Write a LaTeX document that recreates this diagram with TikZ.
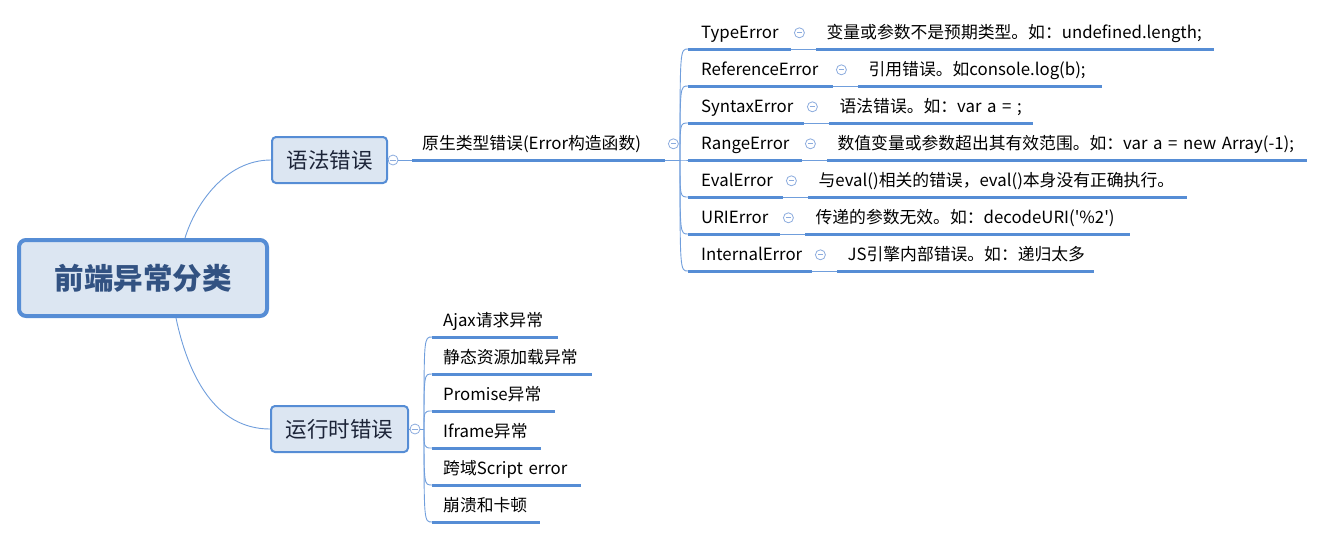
\documentclass[tikz,border=0pt]{standalone}
\usepackage{fontspec}
\newfontfamily\uifont{Noto Sans CJK SC}
\usetikzlibrary{positioning,calc}
\definecolor{lineBlue}{RGB}{86,141,213}
\definecolor{thinBlue}{RGB}{112,158,220}
\definecolor{iconBlue}{RGB}{140,172,222}
\definecolor{boxFill}{RGB}{220,230,242}
\definecolor{rootText}{RGB}{50,82,130}
\definecolor{branchText}{RGB}{28,36,56}
\tikzstyle{nRoot}=[rectangle,rounded corners=7pt,draw=lineBlue,line width=4pt,fill=boxFill,minimum width=248,minimum height=76,font=\uifont\bfseries\fontsize{29.5}{34}\selectfont,text=rootText]
\tikzstyle{nBranch}=[rectangle,rounded corners=4pt,draw=lineBlue,line width=2pt,fill=boxFill,minimum height=46,font=\uifont\fontsize{21.5}{26}\selectfont,text=branchText]
\tikzstyle{nLeaf}=[anchor=south west,inner ysep=0pt,text height=15pt,text depth=10pt,align=left,font=\uifont\fontsize{16.8}{20}\selectfont,text=black]
\tikzstyle{nName}=[nLeaf,inner xsep=13pt]
\tikzstyle{nDesc}=[nLeaf,inner xsep=10pt]
\tikzstyle{nItem}=[nLeaf,inner xsep=11pt]
\tikzstyle{nIcon}=[circle,draw=iconBlue,fill=white,line width=0.8pt,minimum size=10,inner sep=0pt,
  path picture={\draw[iconBlue,line width=0.8pt] ([xshift=2.4pt]path picture bounding box.west) -- ([xshift=-2.4pt]path picture bounding box.east);}]
\tikzstyle{eThick}=[draw=lineBlue,line width=3pt]
\tikzstyle{eThin}=[draw=thinBlue,line width=0.9pt]
\begin{document}
\begin{tikzpicture}[x=1pt,y=-1pt]
        \useasboundingbox (0,0) rectangle (1331,539);
                % root and main branches
                \draw (143,278) node[nRoot] (root) {前端异常分类};
                \draw (329.5,160) node[nBranch,minimum width=115] (b1) {语法错误};
                \draw (339.5,429) node[nBranch,minimum width=137] (b2) {运行时错误};
                \coordinate (rUp) at ($(root.north)+(42,0)$);
                \coordinate (rDown) at ($(root.south)+(33,0)$);
                \draw[eThin] (rUp) .. controls (195,205) and (225,160) .. (b1.west);
                \draw[eThin] (rDown) .. controls (188,375) and (215,429) .. (b2.west);
                % native error types
                \draw (412,160) node[nDesc,text width=233] (p1) {原生类型错误(Error构造函数)};
                \node[nIcon] (i0) at ($(b1.east)+(5,0)$) {};
                \node[nIcon] (i1) at ($(p1.base east)+(8,-6)$) {};
                \coordinate (fanA) at (680,160);
                \draw (688,49) node[nName,text width=77] (t1) {TypeError};
                \draw (688,86) node[nName,text width=119] (t2) {ReferenceError};
                \draw (688,123) node[nName,text width=90] (t3) {SyntaxError};
                \draw (688,160) node[nName,text width=88] (t4) {RangeError};
                \draw (688,197) node[nName,text width=69] (t5) {EvalError};
                \draw (688,234) node[nName,text width=66] (t6) {URIError};
                \draw (688,271) node[nName,text width=98] (t7) {InternalError};
                \node[nDesc,right=25pt of t1,text width=377] (d1) {变量或参数不是预期类型。如：undefined.length;};
                \node[nDesc,right=25pt of t2,text width=223] (d2) {引用错误。如console.log(b);};
                \node[nDesc,right=25pt of t3,text width=183] (d3) {语法错误。如：var a = ;};
                \node[nDesc,right=25pt of t4,text width=459] (d4) {数值变量或参数超出其有效范围。如：var a = new Array(-1);};
                \node[nDesc,right=25pt of t5,text width=358] (d5) {与eval()相关的错误，eval()本身没有正确执行。};
                \node[nDesc,right=25pt of t6,text width=304] (d6) {传递的参数无效。如：decodeURI('\%2')};
                \node[nDesc,right=25pt of t7,text width=236] (d7) {JS引擎内部错误。如：递归太多};
                % runtime errors
                \coordinate (fanB) at (424,429);
                \draw (432,337) node[nItem,text width=104] (c1) {Ajax请求异常};
                \draw (432,374) node[nItem,text width=138] (c2) {静态资源加载异常};
                \draw (432,411) node[nItem,text width=101] (c3) {Promise异常};
                \draw (432,448) node[nItem,text width=87] (c4) {Iframe异常};
                \draw (432,485) node[nItem,text width=127] (c5) {跨域Script error};
                \draw (432,522) node[nItem,text width=86] (c6) {崩溃和卡顿};
                \node[nIcon] (i2) at ($(b2.east)+(6,0)$) {};
                % connectors
                \path
                    (b1.east) edge[eThin] (i0)
                    (i0) edge[eThin] (p1.south west)
                    (p1.south east) edge[eThin] (fanA)
                    (b2.east) edge[eThin] (i2)
                    (i2) edge[eThin] (fanB)
                ;
                \foreach \n in {1,...,7} {
                    \draw[eThin] (fanA) .. controls (fanA |- t\n.south west) .. (t\n.south west);
                    \draw[eThin] (t\n.south east) -- (d\n.south west);
                    \node[nIcon] at ($(t\n.base east)+(8,-6)$) {};
                }
                \foreach \n in {1,...,6}
                    \draw[eThin] (fanB) .. controls (fanB |- c\n.south west) .. (c\n.south west);
                \foreach \n in {p1,t1,t2,t3,t4,t5,t6,t7,d1,d2,d3,d4,d5,d6,d7,c1,c2,c3,c4,c5,c6}
                    \draw[eThick] (\n.south west) -- (\n.south east);
        \end{tikzpicture}
\end{document}
